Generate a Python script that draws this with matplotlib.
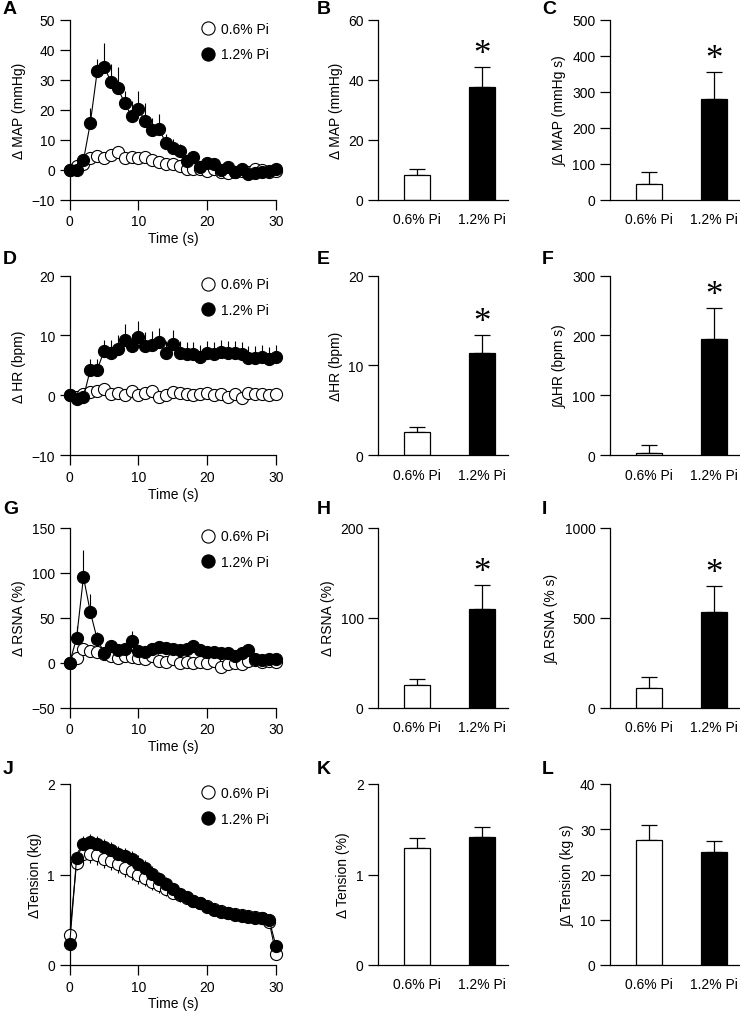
import numpy as np
import matplotlib.pyplot as plt
from matplotlib.lines import Line2D

plt.rcParams['font.family'] = ['Liberation Sans', 'DejaVu Sans']
plt.rcParams['font.size'] = 10
plt.rcParams['axes.linewidth'] = 0.9
plt.rcParams['xtick.major.width'] = 0.9
plt.rcParams['ytick.major.width'] = 0.9
plt.rcParams['xtick.major.size'] = 7
plt.rcParams['ytick.major.size'] = 7

# time course, 1 s bins
time_s = np.arange(31)
groups = ['0.6% Pi', '1.2% Pi']

# MAP (mmHg)
map_low = [0, 1.2, 1.8, 4.0, 4.7, 4.0, 4.9, 5.8, 4.0, 4.2, 3.8, 4.2, 3.2, 2.6, 2.0, 1.8,
           1.2, 0.2, 0.1, 0.3, -0.3, 0.2, -0.6, -1.0, -0.6, -0.3, -0.8, 0.3, 0.0, -0.6, -0.3]
map_low_err = [0, 1.0, 1.0, 1.2, 1.2, 1.2, 1.2, 1.2, 1.2, 1.2, 1.0, 1.0, 1.0, 1.0, 1.0, 1.0,
               1.0, 1.0, 1.0, 1.0, 1.0, 1.0, 1.0, 1.0, 1.0, 1.0, 1.0, 1.0, 1.0, 1.0, 1.0]
map_high = [0, 0, 3.1, 15.6, 32.8, 34.4, 29.3, 27.1, 22.2, 17.8, 20.1, 16.1, 13.3, 13.5, 8.9, 7.4,
            6.1, 3.0, 4.4, 0.8, 2.2, 1.9, -0.1, 0.8, -0.9, 0.2, -1.4, -1.2, -0.8, -0.3, 0.3]
map_high_err = [0, 0.5, 1.5, 5.0, 4.0, 8.0, 6.0, 7.0, 4.0, 5.0, 6.0, 6.0, 4.0, 5.0, 3.0, 3.0,
                2.5, 2.0, 2.0, 1.5, 1.5, 1.5, 1.5, 1.5, 1.5, 1.5, 1.5, 1.5, 1.5, 1.5, 1.5]

# HR (bpm)
hr_low = [0, -0.3, 0.2, 0.6, 0.7, 1.0, 0.2, 0.4, 0.0, 0.7, 0.1, 0.4, 0.7, -0.3, 0.0, 0.6,
          0.4, 0.2, 0.1, 0.2, 0.4, 0.0, 0.2, -0.3, 0.3, -0.4, 0.4, 0.3, 0.3, 0.1, 0.2]
hr_low_err = [0, 0.3, 0.3, 0.4, 0.4, 0.4, 0.4, 0.4, 0.4, 0.4, 0.4, 0.4, 0.4, 0.4, 0.4, 0.4,
              0.4, 0.4, 0.4, 0.4, 0.4, 0.4, 0.4, 0.4, 0.4, 0.4, 0.4, 0.4, 0.4, 0.4, 0.4]
hr_high = [0, -0.6, -0.3, 4.3, 4.3, 7.4, 7.0, 7.7, 9.3, 8.2, 9.8, 8.2, 8.4, 8.9, 7.1, 8.5,
           7.0, 6.9, 6.9, 6.4, 7.0, 6.9, 7.2, 7.0, 7.0, 6.9, 6.3, 6.2, 6.4, 6.1, 6.4]
hr_high_err = [0, 0.3, 0.4, 1.8, 1.7, 1.9, 2.3, 2.4, 2.6, 2.0, 2.6, 2.3, 2.3, 2.4, 2.0, 2.4,
               2.1, 2.0, 2.0, 2.0, 2.0, 2.0, 2.0, 2.0, 2.0, 2.0, 2.0, 2.0, 2.0, 2.0, 2.0]

# RSNA (%)
rsna_low = [0, 5.5, 15, 13, 12, 9, 7, 4.5, 7, 6.5, 5, 3.7, 6.7, 2, 1, 4,
            0, 1, -1, 1, 0, 2, -5, -2, -1, -2, 2, 3, 1, 2, 1]
rsna_low_err = [0, 4, 5, 5, 5, 5, 5, 5, 5, 5, 5, 5, 5, 5, 5, 5,
                5, 5, 5, 5, 5, 5, 5, 5, 5, 5, 5, 5, 5, 5, 5]
rsna_high = [0, 27, 95, 56, 26, 11, 18, 14, 15.5, 24, 12.6, 12.2, 15.5, 16.7, 16, 15.5,
             14, 14.8, 17.8, 13.7, 11.9, 11.9, 11, 11, 7.4, 10.4, 14, 4, 3, 4, 4]
rsna_high_err = [0, 14, 30, 20, 8, 5, 5, 5, 5, 11, 5, 5, 5, 5, 5, 5,
                 5, 5, 5, 5, 5, 5, 5, 5, 5, 5, 5, 3, 3, 3, 3]

# Tension (kg)
ten_low = [0.33, 1.13, 1.23, 1.23, 1.21, 1.17, 1.15, 1.12, 1.07, 1.04, 1.00, 0.96, 0.92, 0.88, 0.84, 0.80,
           0.77, 0.74, 0.71, 0.68, 0.65, 0.62, 0.60, 0.58, 0.56, 0.55, 0.54, 0.53, 0.52, 0.48, 0.12]
ten_low_err = [0, 0.08, 0.10, 0.10, 0.10, 0.10, 0.10, 0.10, 0.10, 0.10, 0.10, 0.09, 0.09, 0.08, 0.08, 0.07,
               0.07, 0.06, 0.06, 0.05, 0.05, 0.05, 0.04, 0.04, 0.04, 0.04, 0.04, 0.04, 0.04, 0.04, 0.03]
ten_high = [0.23, 1.18, 1.34, 1.36, 1.34, 1.30, 1.27, 1.23, 1.20, 1.17, 1.12, 1.07, 1.01, 0.95, 0.90, 0.84,
            0.79, 0.75, 0.71, 0.68, 0.64, 0.61, 0.59, 0.57, 0.55, 0.54, 0.53, 0.52, 0.52, 0.50, 0.21]
ten_high_err = [0, 0.06, 0.08, 0.09, 0.09, 0.09, 0.09, 0.09, 0.09, 0.09, 0.09, 0.09, 0.08, 0.08, 0.07, 0.07,
                0.06, 0.06, 0.05, 0.05, 0.05, 0.04, 0.04, 0.04, 0.04, 0.04, 0.04, 0.04, 0.04, 0.04, 0.03]

# summary bars: peak and integrated responses (mean, SEM)
map_peak, map_peak_err = [8.2, 37.7], [2.2, 6.7]
map_auc, map_auc_err = [45, 280], [33, 76]
hr_peak, hr_peak_err = [2.6, 11.4], [0.5, 2.0]
hr_auc, hr_auc_err = [4.4, 194], [12.2, 52]
rsna_peak, rsna_peak_err = [24.8, 109.6], [7.0, 26.4]
rsna_auc, rsna_auc_err = [107, 531], [61, 144]
ten_peak, ten_peak_err = [1.295, 1.413], [0.105, 0.107]
ten_auc, ten_auc_err = [27.6, 25.0], [3.4, 2.3]

FIG_W, FIG_H = 740, 1012
cols_px = [(69.7, 276.0), (378.3, 507.7), (610.0, 739.5)]
rows_px = [(20.7, 200.7), (276.5, 456.3), (528.5, 708.5), (785.0, 966.0)]
letter_y = [5, 255, 505, 764]
letter_x = [3, 317, 542]


def make_axes(fig, row, col):
    x0, x1 = cols_px[col]
    y0, y1 = rows_px[row]
    ax = fig.add_axes([x0 / FIG_W, 1 - y1 / FIG_H, (x1 - x0) / FIG_W, (y1 - y0) / FIG_H])
    ax.spines['top'].set_visible(False)
    ax.spines['right'].set_visible(False)
    return ax


def time_course(ax, low, low_err, high, high_err, ylim, yticks, ylabel):
    zeros = np.zeros(len(time_s))
    ax.errorbar(time_s, low, yerr=[low_err, zeros], fmt='-o', color='black', mfc='white', mec='black',
                ms=8.7, mew=0.8, lw=0.8, elinewidth=0.8, capsize=0, clip_on=False, zorder=3)
    ax.errorbar(time_s, high, yerr=[zeros, high_err], fmt='-o', color='black', mfc='black', mec='black',
                ms=8.7, mew=0.8, lw=0.8, elinewidth=0.8, capsize=0, clip_on=False, zorder=4)
    ax.set_xlim(0, 30)
    ax.set_xticks([0, 10, 20, 30])
    ax.set_ylim(*ylim)
    ax.set_yticks(yticks)
    ax.set_xlabel('Time (s)', labelpad=2)
    ax.set_ylabel(ylabel)
    handles = [Line2D([], [], ls='none', marker='o', ms=9.5, mfc='white', mec='black', mew=0.8),
               Line2D([], [], ls='none', marker='o', ms=9.5, mfc='black', mec='black', mew=0.8)]
    ax.legend(handles, groups, loc='upper left', bbox_to_anchor=(0.61, 1.02), frameon=False,
              handlelength=1.0, handletextpad=0.45, labelspacing=0.85, borderaxespad=0)


def bar_panel(ax, vals, errs, ylim, yticks, ylabel, star):
    pos = [0, 1]
    ax.bar(pos, vals, width=0.4, color=['white', 'black'], edgecolor='black', linewidth=0.9, zorder=2)
    ax.errorbar(pos, vals, yerr=[[0, 0], errs], fmt='none', ecolor='black', elinewidth=0.9,
                capsize=5.5, capthick=0.9, zorder=1)
    ax.set_xlim(-0.6, 1.4)
    ax.set_xticks(pos)
    ax.set_xticklabels(groups)
    ax.tick_params(axis='x', length=0, pad=9)
    ax.set_ylim(*ylim)
    ax.set_yticks(yticks)
    ax.set_ylabel(ylabel)
    if star:
        ax.annotate('*', xy=(1, vals[1] + errs[1]), xytext=(0, -3), textcoords='offset points',
                    ha='center', va='bottom', fontsize=25, family='Liberation Serif')


fig = plt.figure(figsize=(FIG_W / 100, FIG_H / 100), dpi=100)

ax = make_axes(fig, 0, 0)
time_course(ax, map_low, map_low_err, map_high, map_high_err, (-10, 50), range(-10, 51, 10), 'Δ MAP (mmHg)')
ax = make_axes(fig, 0, 1)
bar_panel(ax, map_peak, map_peak_err, (0, 60), [0, 20, 40, 60], 'Δ MAP (mmHg)', True)
ax = make_axes(fig, 0, 2)
bar_panel(ax, map_auc, map_auc_err, (0, 500), range(0, 501, 100), '∫Δ MAP (mmHg s)', True)

ax = make_axes(fig, 1, 0)
time_course(ax, hr_low, hr_low_err, hr_high, hr_high_err, (-10, 20), [-10, 0, 10, 20], 'Δ HR (bpm)')
ax = make_axes(fig, 1, 1)
bar_panel(ax, hr_peak, hr_peak_err, (0, 20), [0, 10, 20], 'ΔHR (bpm)', True)
ax = make_axes(fig, 1, 2)
bar_panel(ax, hr_auc, hr_auc_err, (0, 300), [0, 100, 200, 300], '∫ΔHR (bpm s)', True)

ax = make_axes(fig, 2, 0)
time_course(ax, rsna_low, rsna_low_err, rsna_high, rsna_high_err, (-50, 150), range(-50, 151, 50), 'Δ RSNA (%)')
ax = make_axes(fig, 2, 1)
bar_panel(ax, rsna_peak, rsna_peak_err, (0, 200), [0, 100, 200], 'Δ RSNA (%)', True)
ax = make_axes(fig, 2, 2)
bar_panel(ax, rsna_auc, rsna_auc_err, (0, 1000), [0, 500, 1000], '∫Δ RSNA (% s)', True)

ax = make_axes(fig, 3, 0)
time_course(ax, ten_low, ten_low_err, ten_high, ten_high_err, (0, 2), [0, 1, 2], 'ΔTension (kg)')
ax = make_axes(fig, 3, 1)
bar_panel(ax, ten_peak, ten_peak_err, (0, 2), [0, 1, 2], 'Δ Tension (%)', False)
ax = make_axes(fig, 3, 2)
bar_panel(ax, ten_auc, ten_auc_err, (0, 40), range(0, 41, 10), '∫Δ Tension (kg s)', False)

letters = 'ABCDEFGHIJKL'
for i, letter in enumerate(letters):
    r, c = divmod(i, 3)
    fig.text(letter_x[c] / FIG_W, 1 - (letter_y[r] - 3.5) / FIG_H, letter,
             fontsize=14, fontweight='bold', ha='left', va='top')

fig.savefig('out.png', dpi=100)
